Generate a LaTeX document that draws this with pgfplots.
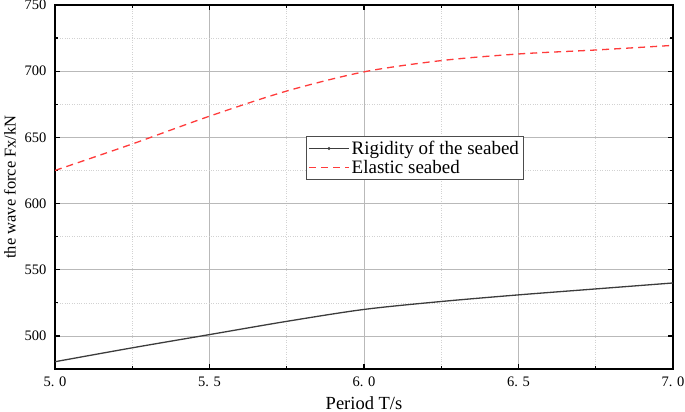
\documentclass[border=0pt]{standalone}
\usepackage{pgfplots}
\pgfplotsset{compat=1.18}
\usetikzlibrary{calc}
\usepackage{fontspec}
\setmainfont{Liberation Serif}
\definecolor{rline}{HTML}{FF3B3B}
\definecolor{kline}{HTML}{3C3C3C}
\begin{document}
\begin{tikzpicture}[x=1pt,y=1pt]
\begin{axis}[
  scale only axis,
  width=618pt, height=364pt,
  xmin=5, xmax=7, ymin=475, ymax=750,
  xtick={5,5.5,6,6.5,7},
  xticklabels={5. 0,5. 5,6. 0,6. 5,7. 0},
  minor xtick={5.25,5.75,6.25,6.75},
  ytick={500,550,600,650,700,750},
  minor ytick={525,575,625,675,725},
  tick align=inside,
  tick pos=both,
  major tick length=5pt, minor tick length=3pt,
  every tick/.style={black, line width=1.2pt},
  axis line style={line width=1.4pt},
  grid=both,
  major grid style={gray!55, line width=0.7pt},
  minor grid style={gray!35, dotted, line width=0.6pt},
  tick label style={font=\fontsize{14.5}{17}\selectfont},
  xticklabel style={yshift=-4pt},
  yticklabel style={xshift=-5pt},
  /pgf/number format/assume math mode=true,
  xlabel={Period T/s},
  ylabel={the wave force Fx/kN},
  xlabel style={font=\fontsize{18.5}{20}\selectfont, yshift=-3pt},
  ylabel style={font=\fontsize{16.5}{18}\selectfont, yshift=2pt},
  legend style={at={(0.582,0.58)}, anchor=center, font=\fontsize{19}{21}\selectfont, draw=black!70, line width=0.7pt, inner sep=2.5pt, row sep=0pt},
  legend image code/.code={\draw[#1, mark repeat=2, mark phase=2] plot coordinates {(0pt,0pt) (20pt,0pt) (40pt,0pt)};},
  legend cell align=left,
]
\addplot[color=kline, line width=1.3pt, smooth, mark=*, mark size=0.7pt, mark repeat=100, mark phase=50] coordinates {
(5.0,480.5)(5.25,491)(5.5,501)(5.75,511)(6.0,520)(6.25,526)(6.5,531)(6.75,535.5)(7.0,540)};
\addlegendentry{Rigidity of the seabed}
\addplot[color=rline, line width=1.3pt, smooth, dash pattern=on 7pt off 5pt] coordinates {
(5.0,625)(5.25,645)(5.5,666)(5.75,685)(6.0,699.5)(6.25,708)(6.5,713)(6.75,716)(7.0,719.5)};
\addlegendentry{Elastic seabed}
\end{axis}
\pgfresetboundingbox
\path[use as bounding box] ($(current axis.south west)+(-55pt,-43pt)$) rectangle ($(current axis.north east)+(12pt,5pt)$);
\end{tikzpicture}
\end{document}
